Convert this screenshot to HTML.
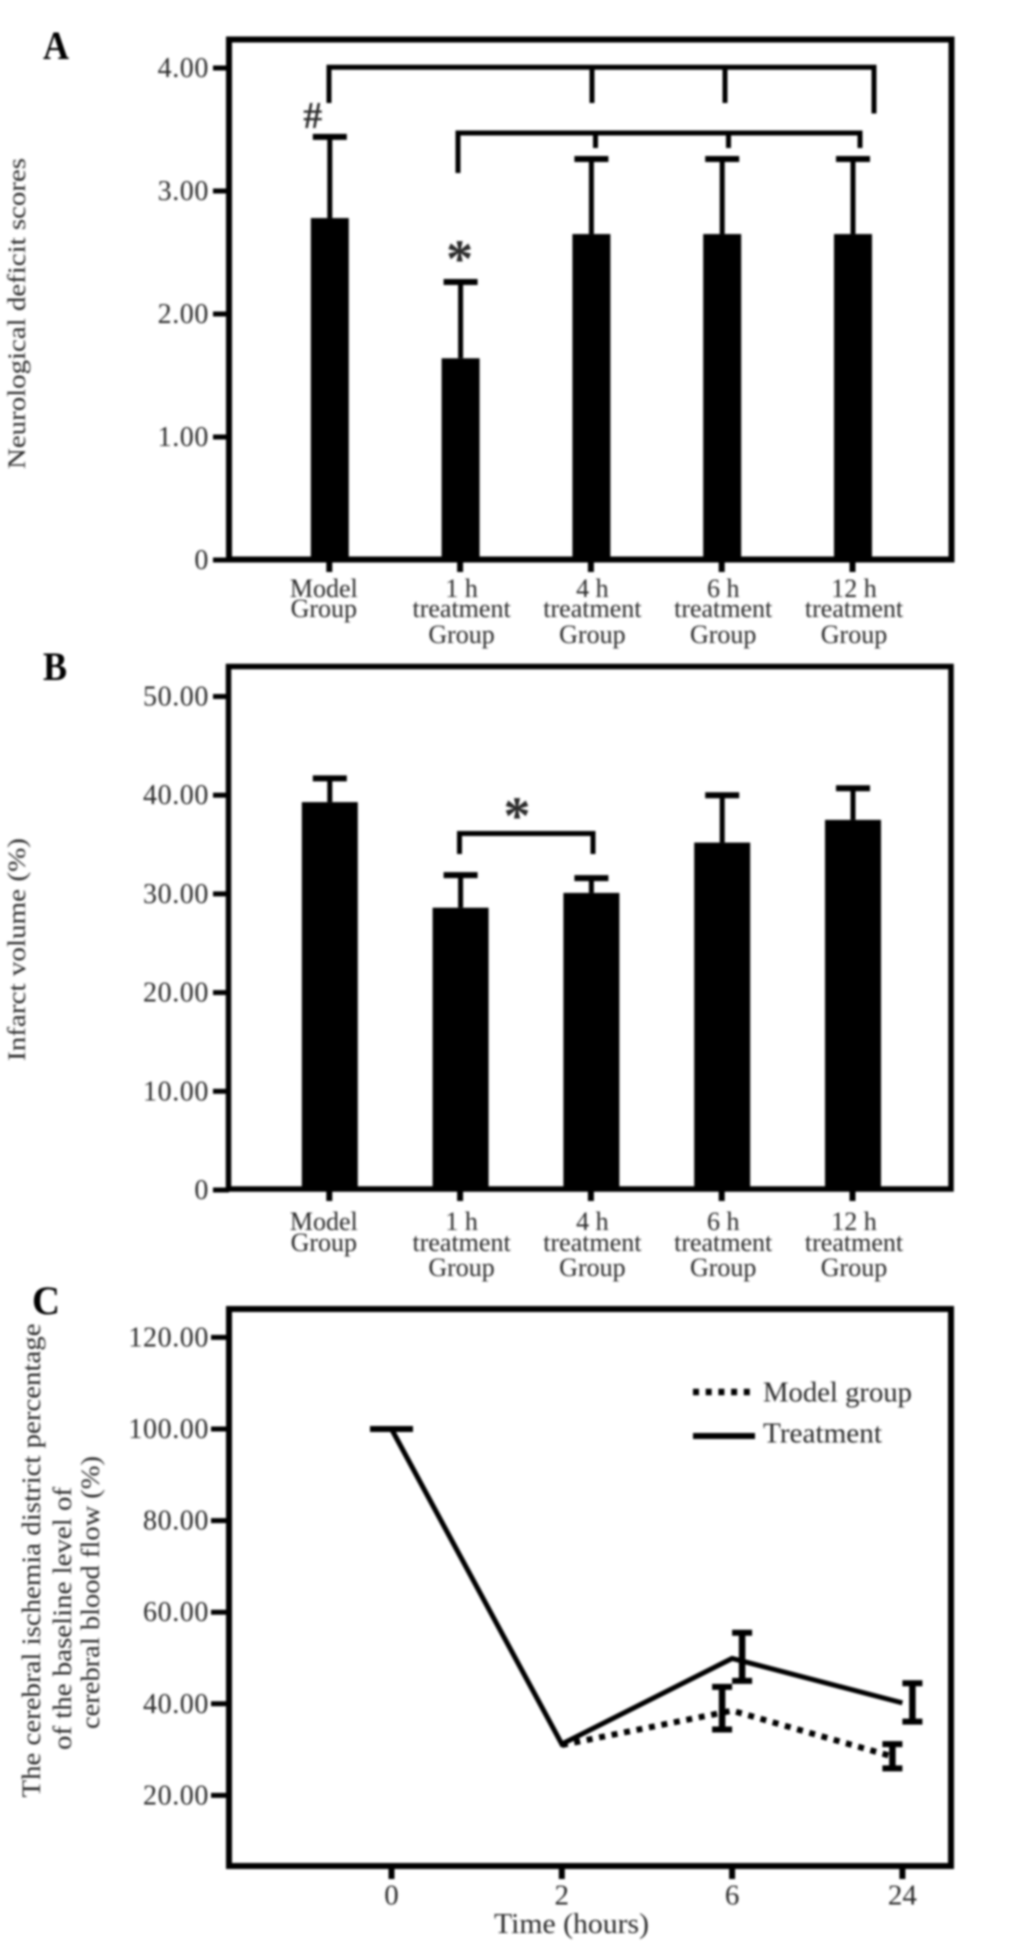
<!DOCTYPE html>
<html lang="en">
<head>
<meta charset="utf-8">
<title>Neurological deficit, infarct volume and cerebral blood flow</title>
<style>
html,body{margin:0;padding:0;background:#fff;}
svg{display:block;}
text{font-family:"Liberation Serif",serif;fill:#2a2a2a;}
.panel{font-family:"Liberation Serif",serif;font-weight:bold;fill:#000;font-size:40px;}
</style>
</head>
<body>
<svg id="figure" xmlns="http://www.w3.org/2000/svg" width="1033" height="1945" viewBox="0 0 1033 1945">
  <defs>
    <filter id="soft" x="-5%" y="-5%" width="110%" height="110%"><feGaussianBlur stdDeviation="0.95"/></filter>
    <filter id="softText" x="-10%" y="-10%" width="120%" height="120%"><feGaussianBlur stdDeviation="1"/></filter>
  </defs>
  <rect width="1033" height="1945" fill="#fff"/>

  <g id="texts" filter="url(#softText)">
    <text class="panel" x="43" y="59" textLength="26" lengthAdjust="spacingAndGlyphs">A</text>
    <text class="panel" x="43" y="680" textLength="24" lengthAdjust="spacingAndGlyphs">B</text>
    <text class="panel" x="32" y="1314" textLength="28" lengthAdjust="spacingAndGlyphs">C</text>

    <text font-size="25" transform="translate(25 469) rotate(-90)" textLength="311" lengthAdjust="spacingAndGlyphs">Neurological deficit scores</text>
    <text font-size="25" transform="translate(25 1061) rotate(-90)" textLength="223" lengthAdjust="spacingAndGlyphs">Infarct volume (%)</text>
    <text font-size="26" transform="translate(40 1797.5) rotate(-90)" textLength="474" lengthAdjust="spacingAndGlyphs">The cerebral ischemia district percentage</text>
    <text font-size="26" transform="translate(71 1750) rotate(-90)" textLength="263" lengthAdjust="spacingAndGlyphs">of the baseline level of</text>
    <text font-size="26" transform="translate(99 1729) rotate(-90)" textLength="273" lengthAdjust="spacingAndGlyphs">cerebral blood flow (%)</text>

    <text font-size="28" x="494" y="1933" textLength="155" lengthAdjust="spacingAndGlyphs">Time (hours)</text>
    <text font-size="28" x="763" y="1401.5" textLength="149" lengthAdjust="spacingAndGlyphs">Model group</text>
    <text font-size="28" x="763" y="1442.5" textLength="119" lengthAdjust="spacingAndGlyphs">Treatment</text>
  </g>

  <g id="marks" filter="url(#soft)">
    <rect x="229" y="39.5" width="722.5" height="520" fill="none" stroke="#000" stroke-width="6"/>
    <rect x="228.5" y="666.5" width="722.5" height="522.5" fill="none" stroke="#000" stroke-width="5.5"/>
    <rect x="229" y="1309" width="722" height="557" fill="none" stroke="#000" stroke-width="6"/>

    <path d="M329 103V67.3H874V113.5M592 67.3V103M725 67.3V103" fill="none" stroke="#000" stroke-width="5"/>
    <path d="M458 173V133H860V148M595.5 133V148M728.5 133V148" fill="none" stroke="#000" stroke-width="5"/>
    <path d="M459.5 854V833.5H593V854" fill="none" stroke="#000" stroke-width="5"/>

    <path d="M693 1392H755" fill="none" stroke="#000" stroke-width="6.5" stroke-dasharray="6 6.7"/>
    <path d="M693 1436H755" fill="none" stroke="#000" stroke-width="6"/>
  </g>
</svg>

<script>
// Panel A: neurological deficit scores
const aCategories = [["Model","Group"],["1 h","treatment","Group"],["4 h","treatment","Group"],["6 h","treatment","Group"],["12 h","treatment","Group"]];
const aValues = [2.78, 1.64, 2.65, 2.65, 2.65];
const aErrorTops = [3.44, 2.26, 3.26, 3.26, 3.26];
const aTickLabels = ["0","1.00","2.00","3.00","4.00"];

// Panel B: infarct volume
const bCategories = [["Model","Group"],["1 h","treatment","Group"],["4 h","treatment","Group"],["6 h","treatment","Group"],["12 h","treatment","Group"]];
const bValues = [39.3, 28.6, 30.1, 35.2, 37.5];
const bErrorTops = [41.7, 31.9, 31.6, 40.0, 40.7];
const bTickLabels = ["0","10.00","20.00","30.00","40.00","50.00"];

// Panel C: cerebral blood flow over time
const cCategories = ["0","2","6","24"];
const cTreatment = [100, 31.2, 49.9, 40.2];
const cTreatmentHigh = [100, null, 55.5, 44.5];
const cTreatmentLow = [100, null, 45.0, 36.1];
const cModel = [null, 31.0, 38.5, 28.5];
const cModelHigh = [null, null, 43.7, 31.2];
const cModelLow = [null, null, 34.4, 25.9];
const cTickLabels = ["20.00","40.00","60.00","80.00","100.00","120.00"];

const NS = "http://www.w3.org/2000/svg";
const marks = document.getElementById("marks");
const texts = document.getElementById("texts");

const xBar = i => 329.8 + 130.8 * i;
const yA = v => 560 - 123 * v;
const yB = v => 1190 - 9.87 * v;
const xC = i => 391.5 + 170.3 * i;
const yC = v => 1887 - 4.58 * v;

function shape(tag, attrs) {
  const el = document.createElementNS(NS, tag);
  for (const k in attrs) el.setAttribute(k, attrs[k]);
  return el;
}
function segment(x1, y1, x2, y2, w) {
  return shape("line", {x1: x1, y1: y1, x2: x2, y2: y2, stroke: "#000", "stroke-width": w});
}

function yTickLabel(label, y) {
  const t = shape("text", {x: 209, y: y + 9, "text-anchor": "end", "font-size": 28, "letter-spacing": "0.6"});
  t.textContent = label;
  return t;
}

function drawBarPanel(panel, categories, values, tops, tickLabels, yScale, barWidth, baseY, labelBaselines) {
  tickLabels.forEach(function (label) {
    const y = yScale(parseFloat(label));
    const tick = segment(213, y, 229, y, 5);
    
    
    marks.appendChild(tick);
    const t = yTickLabel(label, y);
    
    
    texts.appendChild(t);
  });
  values.forEach(function (v, i) {
    const x = xBar(i);
    const y = yScale(v);
    const bar = shape("rect", {x: x - barWidth / 2, y: y, width: barWidth, height: baseY - y, fill: "#000"});
    
    
    marks.appendChild(bar);

    const stem = segment(x, y, x, yScale(tops[i]), 5);
    
    
    marks.appendChild(stem);

    const cap = segment(x - 17, yScale(tops[i]), x + 17, yScale(tops[i]), 6);
    
    
    marks.appendChild(cap);

    const xt = segment(x - 0.5, baseY - 1, x - 0.5, baseY + 12, 6);
    
    
    marks.appendChild(xt);

    categories[i].forEach(function (line, j) {
      const lineY = labelBaselines[j];
      const shift = i === 0 ? -6 : 1;
      const t = shape("text", {x: x + shift, y: lineY, "text-anchor": "middle", "font-size": 26});
      t.textContent = line;
      
      
      texts.appendChild(t);
    });
  });
}

drawBarPanel("a", aCategories, aValues, aErrorTops, aTickLabels, yA, 38, 560, [597, 617, 643]);
drawBarPanel("b", bCategories, bValues, bErrorTops, bTickLabels, yB, 56, 1189, [1230, 1251, 1276]);

// Significance symbols
const hash = shape("text", {x: xBar(0) - 17, y: yA(aErrorTops[0]) - 9, "text-anchor": "middle", "font-size": 38, "font-weight": "bold"});
hash.textContent = "#";


texts.appendChild(hash);

const starA = shape("text", {x: xBar(1) - 1, y: yA(aErrorTops[1]) - 5, "text-anchor": "middle", "font-size": 54, "font-weight": "bold"});
starA.textContent = "*";


texts.appendChild(starA);

const starB = shape("text", {x: (xBar(1) + xBar(2)) / 2 - 9, y: 834, "text-anchor": "middle", "font-size": 54, "font-weight": "bold"});
starB.textContent = "*";


texts.appendChild(starB);

// Panel C axes
cTickLabels.forEach(function (label) {
  const y = yC(parseFloat(label));
  const tick = segment(211, y, 229, y, 5);
  
  
  marks.appendChild(tick);
  const t = yTickLabel(label, y);
  
  
  texts.appendChild(t);
});
cCategories.forEach(function (label, i) {
  const x = xC(i);
  const tick = segment(x, 1865, x, 1879, 6);
  
  
  marks.appendChild(tick);
  const t = shape("text", {x: x, y: 1904.5, "text-anchor": "middle", "font-size": 29});
  t.textContent = label;
  
  
  texts.appendChild(t);
});

// Panel C series
const modelPoints = [];
cModel.forEach(function (v, i) {
  if (v === null) return;
  const isLast = i === cModel.length - 1;
  modelPoints.push((xC(i) - (isLast ? 10 : 0)) + "," + yC(v));
});
const modelLine = shape("polyline", {points: modelPoints.join(" "), fill: "none", stroke: "#000", "stroke-width": 6, "stroke-dasharray": "6 6.7"});


marks.appendChild(modelLine);

const treatmentPoints = cTreatment.map(function (v, i) { return xC(i) + "," + yC(v); });
const treatmentLine = shape("polyline", {points: treatmentPoints.join(" "), fill: "none", stroke: "#000", "stroke-width": 5});


marks.appendChild(treatmentLine);

function drawErrors(name, highs, lows, offset) {
  highs.forEach(function (hi, i) {
    if (hi === null) return;
    const x = xC(i) + (i === 0 ? 0 : offset);
    const capHalf = i === 0 ? 21.5 : 10;
    const stem = segment(x, yC(hi), x, yC(lows[i]), 6.5);
    
    
    marks.appendChild(stem);
    const capTop = segment(x - capHalf, yC(hi), x + capHalf, yC(hi), 6);
    
    
    marks.appendChild(capTop);
    const capBottom = segment(x - capHalf, yC(lows[i]), x + capHalf, yC(lows[i]), 6);
    
    
    marks.appendChild(capBottom);
  });
}
drawErrors("model", cModelHigh, cModelLow, -10);
drawErrors("treatment", cTreatmentHigh, cTreatmentLow, 10);
</script>
</body>
</html>
